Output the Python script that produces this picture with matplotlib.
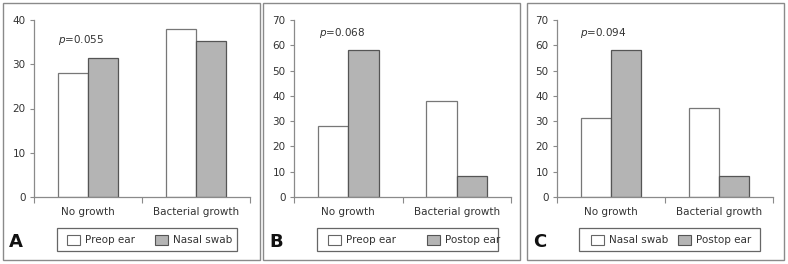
import matplotlib.pyplot as plt
from matplotlib.patches import Rectangle
import numpy as np

# data (percent of patients)
categories = ["No growth", "Bacterial growth"]
preop_ear = [28.0, 37.9]
nasal_swab = [31.4, 35.2]
postop_ear = [58.2, 8.2]

panels = [
    ("A", "Preop ear", preop_ear, "Nasal swab", nasal_swab, 40, "0.055"),
    ("B", "Preop ear", preop_ear, "Postop ear", postop_ear, 70, "0.068"),
    ("C", "Nasal swab", nasal_swab, "Postop ear", postop_ear, 70, "0.094"),
]

W, H = 788, 264
fig = plt.figure(figsize=(W / 100, H / 100), dpi=100)
plt.rcParams['font.family'] = ['DejaVu Sans']

txt_col = '#333333'
ax_col = '#8a8a8a'
gray = '#b4b4b4'

# pixel layout: axes l/r, border l/r, legend box l/r, p-text x/y, legend handle x's
layout = [
    (34, 250, 3, 260, 57, 237, 58, 40, (67, 155)),
    (294, 511, 263, 520, 317, 498, 319, 33, (328, 427)),
    (557, 773, 527, 784, 579, 760, 580, 33, (591, 678)),
]
ax_top, ax_bot = 20, 197


def fig_rect(x0, y0, x1, y1, **kw):
    # rectangle in pixel coords (y from top)
    fig.patches.append(Rectangle((x0 / W, 1 - y1 / H), (x1 - x0) / W, (y1 - y0) / H,
                                 transform=fig.transFigure, **kw))


for (letter, n1, v1, n2, v2, ymax, pval), (l, r, bl, br, ll, lr, px, py, hx) in zip(panels, layout):
    # panel border
    fig_rect(bl, 3, br, 260, fill=False, edgecolor=ax_col, linewidth=1.0)
    ax = fig.add_axes([l / W, 1 - ax_bot / H, (r - l) / W, (ax_bot - ax_top) / H])
    x = np.array([0.5, 1.5])
    w = 0.28
    ax.bar(x - w / 2, v1, w, color='white', edgecolor='#777777', linewidth=0.9)
    ax.bar(x + w / 2, v2, w, color=gray, edgecolor='#555555', linewidth=0.9)
    ax.set_xlim(0, 2)
    ax.set_ylim(0, ymax)
    ax.set_yticks(np.arange(0, ymax + 1, 10))
    ax.set_xticks([0, 1, 2])
    ax.set_xticklabels([])
    ax.set_xticks(x, minor=True)
    ax.set_xticklabels(categories, minor=True)
    ax.tick_params(axis='x', which='minor', length=0, pad=7, labelsize=7.5, labelcolor=txt_col)
    ax.tick_params(axis='x', which='major', length=4, color=ax_col, direction='out')
    ax.tick_params(axis='y', length=3, color=ax_col, labelsize=7.5, labelcolor=txt_col, pad=3)
    for s in ['top', 'right']:
        ax.spines[s].set_visible(False)
    for s in ['left', 'bottom']:
        ax.spines[s].set_color(ax_col)
        ax.spines[s].set_linewidth(0.9)
    ax.text((px - l) / (r - l), (ax_bot - py) / (ax_bot - ax_top), r'$p$=' + pval,
            transform=ax.transAxes, fontsize=7.5, color=txt_col, ha='left', va='center')

    # legend box drawn by hand so entries sit where the reference has them
    fig_rect(ll, 228, lr, 251, fill=False, edgecolor='#666666', linewidth=0.9)
    fig_rect(hx[0], 235, hx[0] + 13, 245, facecolor='white', edgecolor='#666666', linewidth=0.8)
    fig_rect(hx[1], 235, hx[1] + 13, 245, facecolor=gray, edgecolor='#555555', linewidth=0.8)
    fig.text((hx[0] + 18) / W, 1 - 240 / H, n1, fontsize=7.5, color=txt_col, va='center')
    fig.text((hx[1] + 18) / W, 1 - 240 / H, n2, fontsize=7.5, color=txt_col, va='center')

    fig.text((bl + 13) / W, 1 - 242 / H, letter, fontsize=13, fontweight='bold',
             color='#111111', ha='center', va='center')

fig.savefig('out.png', dpi=100)
